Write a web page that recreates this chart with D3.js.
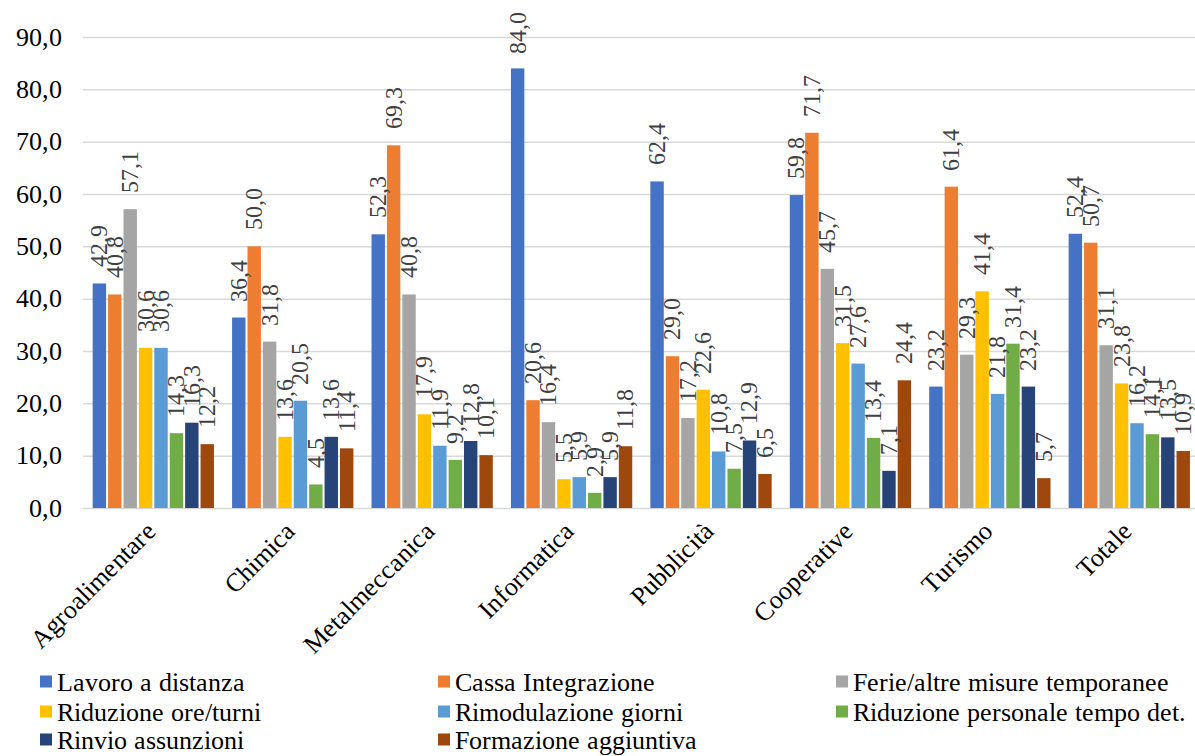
<!DOCTYPE html>
<html>
<head>
<meta charset="utf-8">
<script src="https://cdn.jsdelivr.net/npm/d3@7"></script>
<style>
  @font-face {
    font-family: "ChartSerif";
    src: local("Liberation Serif"), local("LiberationSerif"), local("LiberationSerif-Regular"),
         local("Liberation Serif Regular"), local("Tinos"), local("Tinos-Regular"),
         local("DejaVu Serif"), local("DejaVuSerif"), local("Noto Serif"), local("NotoSerif-Regular");
  }
  html, body { margin: 0; padding: 0; background: #fff; }
  svg { display: block; }
  svg text { font-family: "ChartSerif", "Times New Roman", "Liberation Serif", "DejaVu Serif", serif !important; fill: #000; }
</style>
</head>
<body>
<svg id="chart" width="1195" height="756"></svg>
<script>
// Sectors (x categories)
const categories = ["Agroalimentare", "Chimica", "Metalmeccanica", "Informatica", "Pubblicità", "Cooperative", "Turismo", "Totale"];

// Measures adopted (series)
const seriesNames = [
  "Lavoro a distanza", "Cassa Integrazione", "Ferie/altre misure temporanee",
  "Riduzione ore/turni", "Rimodulazione giorni", "Riduzione personale tempo det.",
  "Rinvio assunzioni", "Formazione aggiuntiva"
];
const seriesColors = ["#4472C4", "#ED7D31", "#A5A5A5", "#FFC000", "#5B9BD5", "#70AD47", "#264478", "#9E480E"];

// Percent values, one array per series, in category order
const lavoroDistanza     = [42.9, 36.4, 52.3, 84.0, 62.4, 59.8, 23.2, 52.4];
const cassaIntegrazione  = [40.8, 50.0, 69.3, 20.6, 29.0, 71.7, 61.4, 50.7];
const ferieAltreMisure   = [57.1, 31.8, 40.8, 16.4, 17.2, 45.7, 29.3, 31.1];
const riduzioneOre       = [30.6, 13.6, 17.9, 5.5, 22.6, 31.5, 41.4, 23.8];
const rimodulazione      = [30.6, 20.5, 11.9, 5.9, 10.8, 27.6, 21.8, 16.2];
const riduzionePersonale = [14.3, 4.5, 9.2, 2.9, 7.5, 13.4, 31.4, 14.1];
const rinvioAssunzioni   = [16.3, 13.6, 12.8, 5.9, 12.9, 7.1, 23.2, 13.5];
const formazione         = [12.2, 11.4, 10.1, 11.8, 6.5, 24.4, 5.7, 10.9];

const yTicks = [0, 10, 20, 30, 40, 50, 60, 70, 80, 90];

const seriesValues = [lavoroDistanza, cassaIntegrazione, ferieAltreMisure, riduzioneOre,
  rimodulazione, riduzionePersonale, rinvioAssunzioni, formazione];

const fmt = v => d3.format(".1f")(v).replace(".", ",");

const svg = d3.select("#chart");
const plotLeft = 83.6, plotRight = 1199, plotTop = 37, plotBottom = 508;

const y = d3.scaleLinear().domain([0, 90]).range([plotBottom, plotTop]);
const x0 = d3.scaleBand().domain(categories).range([plotLeft, plotRight])
  .paddingInner(0.13).paddingOuter(0.065);
const x1 = d3.scaleBand().domain(d3.range(seriesNames.length)).range([0, x0.bandwidth()])
  .paddingInner(0.13).paddingOuter(0);

function draw() {
  // Gridlines and y tick labels
  const yAxis = d3.axisLeft(y).tickValues(yTicks).tickFormat(fmt)
    .tickSize(-(1195 - plotLeft + 1)).tickPadding(21);
  const gy = svg.append("g").attr("transform", `translate(${plotLeft - 0.6},0)`).call(yAxis);
  gy.select(".domain").remove();
  gy.selectAll(".tick line").attr("stroke", "#D9D9D9").attr("stroke-width", 1.5);
  gy.selectAll(".tick text").style("font-size", "26px").attr("fill", "#000");

  // Bars
  const groups = svg.append("g").selectAll("g").data(categories).join("g")
    .attr("transform", d => `translate(${x0(d)},0)`);

  groups.selectAll("rect")
    .data((c, ci) => seriesValues.map((vals, si) => ({ si, v: vals[ci] })))
    .join("rect")
    .attr("x", d => x1(d.si))
    .attr("y", d => y(d.v))
    .attr("width", x1.bandwidth())
    .attr("height", d => y(0) - y(d.v))
    .attr("fill", d => seriesColors[d.si]);

  // Value labels, rotated vertically above each bar
  const labels = groups.selectAll("text.val")
    .data((c, ci) => seriesValues.map((vals, si) => ({ si, v: vals[ci] })))
    .join("text")
    .attr("class", "val")
    .style("font-size", "24px")
    .style("fill", "#404040")
    .attr("text-anchor", "start")
    .attr("dy", "0.33em")
    .text(d => fmt(d.v));

  labels.each(function (d) {
    const len = this.getComputedTextLength();
    let ay = y(d.v) - 16;
    if (ay - len < 12) ay = 12 + len;
    const cx = x1(d.si) + x1.bandwidth() / 2;
    d3.select(this).attr("transform", `translate(${cx},${ay}) rotate(-90)`);
  });

  // Category labels
  svg.append("g").selectAll("text").data(categories).join("text")
    .attr("text-anchor", "end")
    .style("font-size", "26px")
    .attr("transform", d => `translate(${x0(d) + x0.bandwidth() / 2 + 4},${plotBottom + 25}) rotate(-45)`)
    .text(d => d);

  // Legend: three columns
  const legendCols = [40, 438, 836];
  const legendRows = [682, 712, 740];
  const legend = svg.append("g").selectAll("g").data(seriesNames).join("g")
    .attr("transform", (d, i) => `translate(${legendCols[i % 3]},${legendRows[Math.floor(i / 3)]})`);
  legend.append("rect")
    .attr("x", 0).attr("y", -6.5).attr("width", 12).attr("height", 12)
    .attr("fill", (d, i) => seriesColors[i]);
  legend.append("text")
    .attr("x", 17).attr("dy", "0.35em")
    .style("font-size", "26px")
    .text(d => d);
}

if (document.fonts && document.fonts.load) {
  document.fonts.load("24px ChartSerif").then(draw, draw);
} else {
  draw();
}
</script>
</body>
</html>
